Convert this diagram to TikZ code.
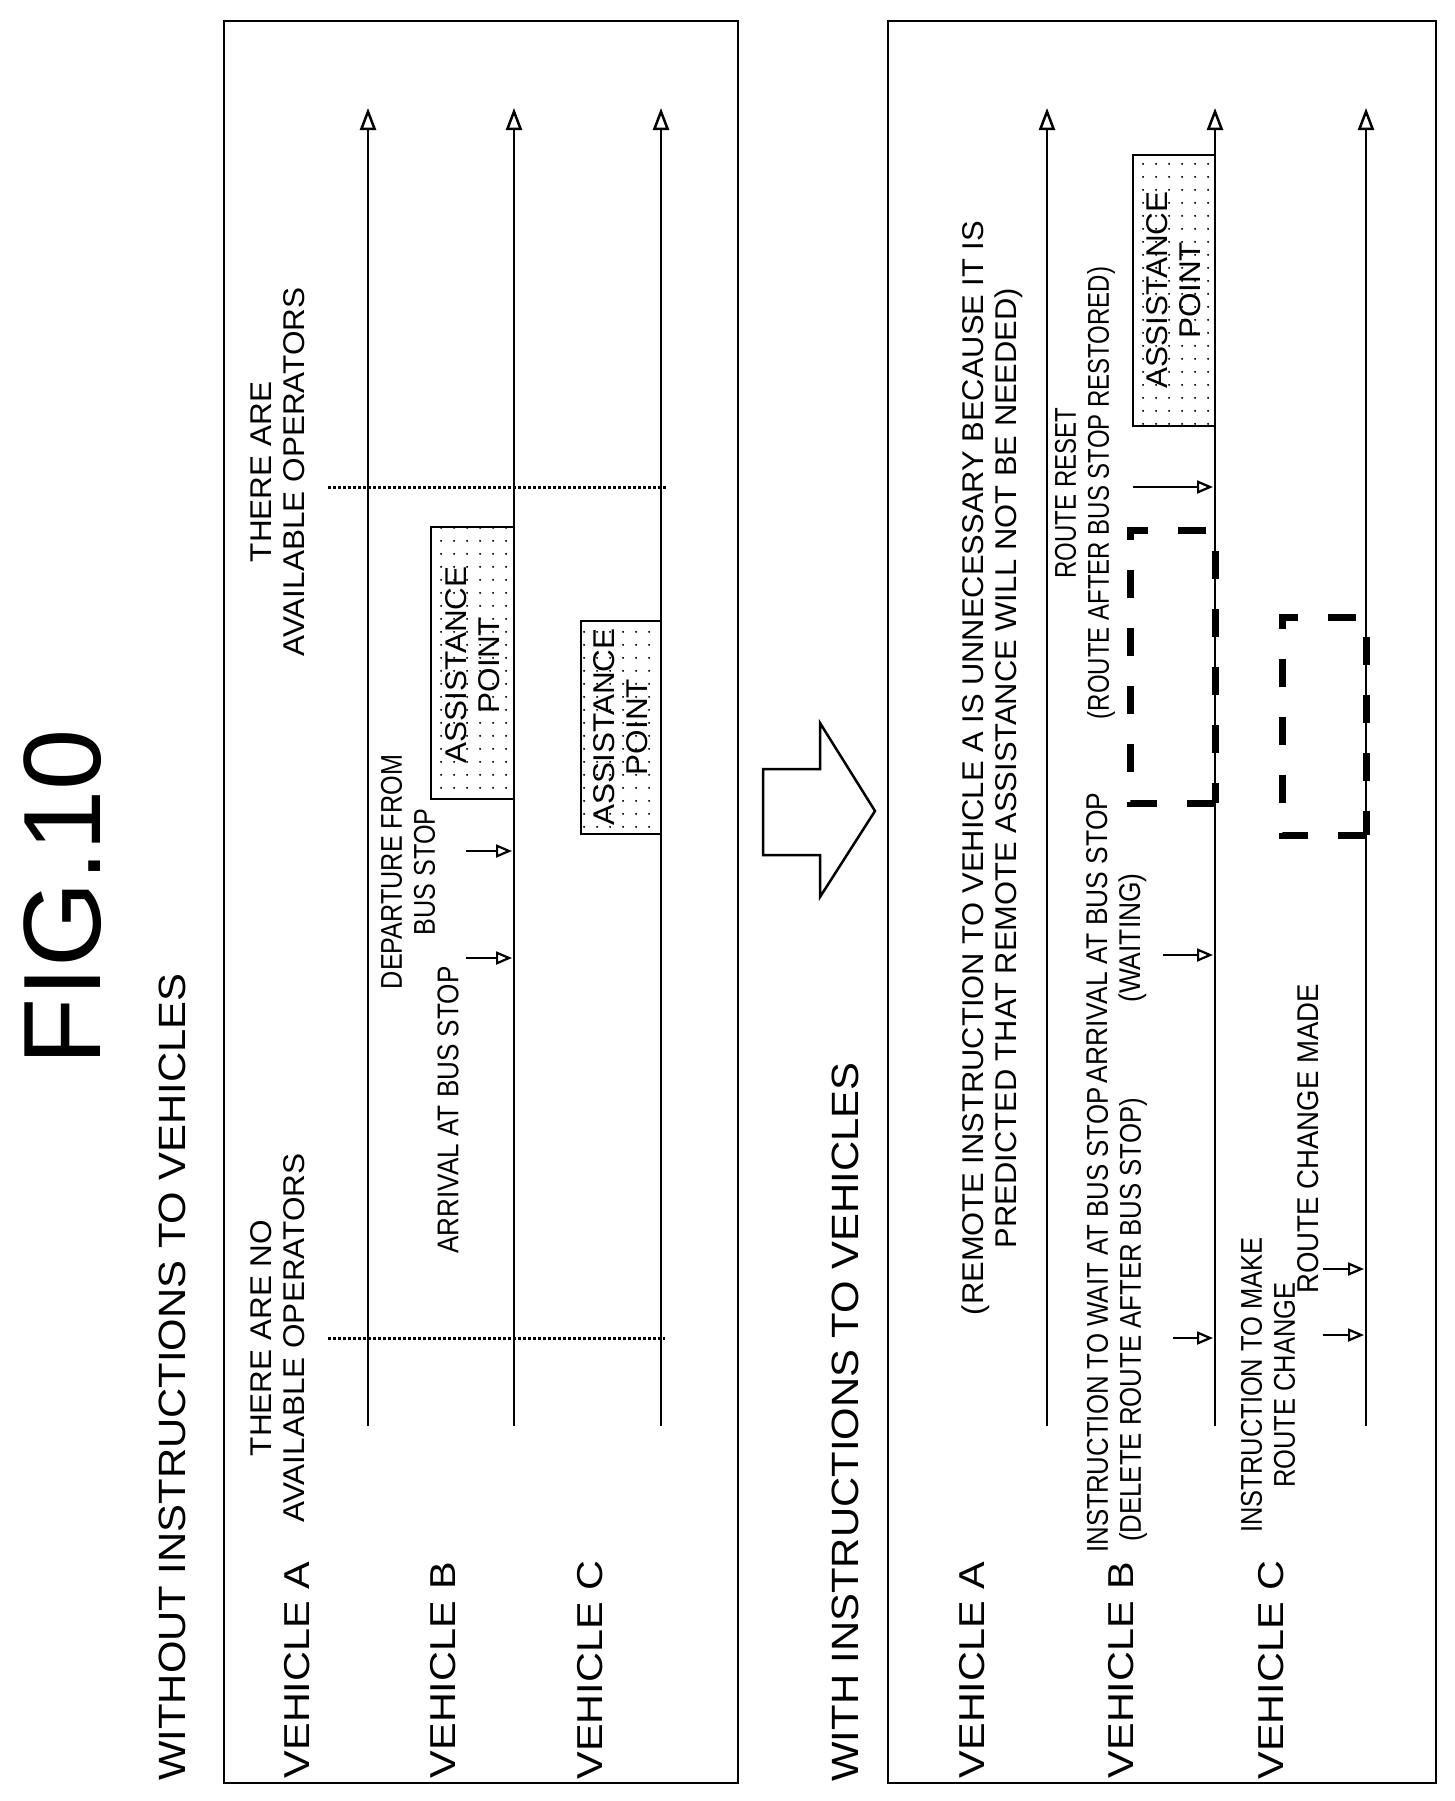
\documentclass[tikz,border=0pt]{standalone}
\usepackage{fontspec}
\setmainfont{Liberation Sans}
\usetikzlibrary{arrows.meta,patterns.meta}
\begin{document}
\begin{tikzpicture}[x=1pt,y=-1pt,
  rt/.style={rotate=90,xscale=#1,transform shape,font=\fontsize{30}{33}\selectfont,align=center,inner sep=0pt},
  rt/.default=0.8,
  veh/.style={rotate=90,xscale=1.15,transform shape,font=\fontsize{36}{38}\selectfont,inner sep=0pt},
  ttl/.style={rotate=90,xscale=1.1,transform shape,font=\fontsize{38}{40}\selectfont,inner sep=0pt},
  frame/.style={line width=2.5pt},
  vline/.style={line width=2.5pt,-{Triangle[open,length=22pt,width=16pt,line width=2.5pt]}},
  small/.style={line width=2pt,-{Triangle[open,length=16pt,width=13pt,line width=2.2pt]}},
  op/.style={line width=3pt,dotted},
  ap/.style={draw,line width=2.5pt,pattern={Dots[distance=13pt,radius=1.2pt]}},
  dd/.style={line width=7pt,dash pattern=on 28pt off 30pt}]
\useasboundingbox (0,0) rectangle (1454,1801);
\node[rotate=90,font=\fontsize{110}{110}\selectfont,inner sep=0pt] (fig) at (63,897) {FIG.10};
\node[ttl] (t1) at (172,1377) {WITHOUT INSTRUCTIONS TO VEHICLES};
\node[ttl] (t2) at (845,1422) {WITH INSTRUCTIONS TO VEHICLES};
\draw[frame] (224,21) rectangle (738,1783);
\draw[frame] (888,21) rectangle (1436,1783);
% left
\node[veh] (la) at (297,1670) {VEHICLE A};
\node[veh] (lb) at (443,1670) {VEHICLE B};
\node[veh] (lc) at (590,1670) {VEHICLE C};
\coordinate (lA0) at (368,1426); \coordinate (lA1) at (368,108);
\coordinate (lB0) at (514,1426); \coordinate (lB1) at (514,108);
\coordinate (lC0) at (661,1426); \coordinate (lC1) at (661,108);
\draw[vline] (lA0) -- (lA1);
\draw[vline] (lB0) -- (lB1);
\draw[vline] (lC0) -- (lC1);
\node[rt=1.05] (no) at (278,1338) {THERE ARE NO\\AVAILABLE OPERATORS};
\coordinate (d1a) at (328,1338); \coordinate (d1b) at (665,1338);
\draw[op] (d1a) -- (d1b);
\node[rt=1.05] (av) at (278,472) {THERE ARE\\AVAILABLE OPERATORS};
\coordinate (d2a) at (328,487); \coordinate (d2b) at (667,487);
\draw[op] (d2a) -- (d2b);
\node[rt=0.87] (arr) at (448,1110) {ARRIVAL AT BUS STOP};
\coordinate (a1a) at (466,958); \coordinate (a1b) at (512,958);
\draw[small] (a1a) -- (a1b);
\node[rt=0.84] (dep) at (408,872) {DEPARTURE FROM\\BUS STOP};
\coordinate (a2a) at (466,851); \coordinate (a2b) at (512,851);
\draw[small] (a2a) -- (a2b);
\draw[ap] (431,527) rectangle (514,799);
\node[rt=1.05] (apb) at (473,665) {ASSISTANCE\\POINT};
\draw[ap] (581,621) rectangle (661,834);
\node[rt=1.05] (apc) at (621,727) {ASSISTANCE\\POINT};
% big arrow
\draw[line width=2.5pt,line join=miter] (763,769) -- (820,769) -- (820,723) -- (875,811) -- (820,897) -- (820,855) -- (763,855) -- cycle;
% right
\node[veh] (ra) at (972,1670) {VEHICLE A};
\node[veh] (rb) at (1121,1670) {VEHICLE B};
\node[veh] (rc) at (1271,1670) {VEHICLE C};
\coordinate (rA0) at (1047,1426); \coordinate (rA1) at (1047,108);
\coordinate (rB0) at (1215,1426); \coordinate (rB1) at (1215,108);
\coordinate (rC0) at (1366,1426); \coordinate (rC1) at (1366,108);
\draw[vline] (rA0) -- (rA1);
\draw[vline] (rB0) -- (rB1);
\draw[vline] (rC0) -- (rC1);
\node[rt=1.03] (rem) at (992,768) {(REMOTE INSTRUCTION TO VEHICLE A IS UNNECESSARY BECAUSE IT IS\\PREDICTED THAT REMOTE ASSISTANCE WILL NOT BE NEEDED)};
\node[rt=0.86] (wait) at (1117,1320) {INSTRUCTION TO WAIT AT BUS STOP\\(DELETE ROUTE AFTER BUS STOP)};
\coordinate (b1a) at (1173,1338); \coordinate (b1b) at (1213,1338);
\draw[small] (b1a) -- (b1b);
\node[rt=0.88] (arw) at (1117,938) {ARRIVAL AT BUS STOP\\(WAITING)};
\coordinate (b2a) at (1163,955); \coordinate (b2b) at (1213,955);
\draw[small] (b2a) -- (b2b);
\node[rt=0.8] (rst) at (1085,493) {ROUTE RESET\\(ROUTE AFTER BUS STOP RESTORED)};
\coordinate (b3a) at (1133,487); \coordinate (b3b) at (1213,487);
\draw[small] (b3a) -- (b3b);
\draw[ap] (1133,155) rectangle (1215,426);
\node[rt=1.05] (apr) at (1174,290) {ASSISTANCE\\POINT};
\node[rt=0.85] (mk) at (1268,1385) {INSTRUCTION TO MAKE\\ROUTE CHANGE};
\coordinate (c1a) at (1323,1335); \coordinate (c1b) at (1364,1335);
\draw[small] (c1a) -- (c1b);
\node[rt=0.92] (chg) at (1308,1139) {ROUTE CHANGE MADE};
\coordinate (c2a) at (1323,1269); \coordinate (c2b) at (1364,1269);
\draw[small] (c2a) -- (c2b);
% dashed deleted routes
\draw[dd] (1215,803) -- (1130,803) -- (1130,530) -- (1215,530) -- cycle;
\draw[dd] (1366,835) -- (1282,835) -- (1282,617) -- (1366,617) -- cycle;
\end{tikzpicture}
\end{document}
